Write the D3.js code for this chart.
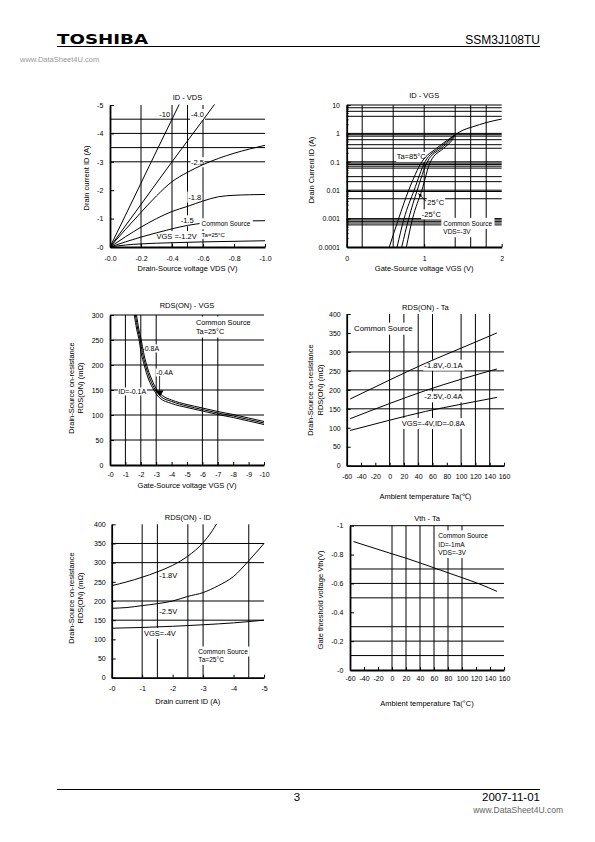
<!DOCTYPE html>
<html><head><meta charset="utf-8">
<script src="https://cdn.jsdelivr.net/npm/d3@7"></script>
<style>
body{margin:0;background:#fff}
svg{display:block}
text{font-family:"Liberation Sans",Arial,Helvetica,sans-serif;fill:#000}
</style>
</head><body>
<script>
// ================= DATA =================
// Panel 1 : ID - VDS  (magnitudes; tick labels carry the minus sign)
const p1XTicks = [0, 0.2, 0.4, 0.6, 0.8, 1.0];
const p1YTicks = [0, 1, 2, 3, 4, 5];
const p1GridX = [0.2, 0.4, 0.5, 0.6];
const p1GridY = [3, 3.5, 4, 4.5];
const idVdsVgs10 = [[0,0],[0.1,1.12],[0.2,2.25],[0.3,3.38],[0.4,4.5],[0.45,5.06]];
const idVdsVgs40 = [[0,0],[0.2,1.5],[0.4,3.0],[0.6,4.47],[0.68,5.06]];
const idVdsVgs25 = [[0,0],[0.1,0.62],[0.2,1.22],[0.3,1.8],[0.4,2.3],[0.5,2.63],[0.6,2.9],[0.7,3.12],[0.8,3.3],[0.9,3.45],[1.0,3.58]];
const idVdsVgs18 = [[0,0],[0.1,0.36],[0.2,0.7],[0.3,1.0],[0.4,1.25],[0.5,1.43],[0.6,1.62],[0.7,1.77],[0.8,1.82],[0.9,1.84],[1.0,1.85]];
const idVdsVgs15 = [[0,0],[0.1,0.18],[0.2,0.35],[0.3,0.5],[0.4,0.64],[0.5,0.76],[0.6,0.84],[0.7,0.89],[0.8,0.91],[0.9,0.92],[1.0,0.925]];
const idVdsVgs12 = [[0,0],[0.1,0.07],[0.2,0.11],[0.4,0.15],[0.6,0.18],[0.8,0.2],[1.0,0.22]];

// Panel 2 : ID - VGS (log)
const p2XTicks = [0, 1, 2];
const p2YTicks = [0.0001, 0.001, 0.01, 0.1, 1, 10];
const p2YTickText = ["0.0001", "0.001", "0.01", "0.1", "1", "10"];
const p2GridX = [0.2, 0.6, 1.0, 1.4, 1.6, 1.8];
const p2GridY = [8, 6, 4, 1, 0.9, 0.8, 0.6, 0.4, 0.3, 0.1, 0.09, 0.08, 0.07, 0.06, 0.03, 0.02, 0.01, 0.009, 0.005, 0.001, 0.0009, 0.0008, 0.0007, 0.0006];
const idVgsTa85 = [[0.55,1e-4],[0.67,1e-3],[0.8,1e-2],[0.97,0.1],[1.16,0.3],[1.3,0.58],[1.4,0.9]];
const idVgsTaB  = [[0.65,1e-4],[0.74,1e-3],[0.87,1e-2],[1.01,0.1],[1.19,0.3],[1.32,0.58],[1.4,0.9]];
const idVgsTa25 = [[0.71,1e-4],[0.8,1e-3],[0.91,1e-2],[1.04,0.1],[1.22,0.3],[1.34,0.58],[1.4,0.9]];
const idVgsTaM25= [[0.77,1e-4],[0.85,1e-3],[0.97,1e-2],[1.08,0.1],[1.25,0.3],[1.36,0.58],[1.4,0.9]];
const idVgsHigh = [[1.4,0.9],[1.5,1.3],[1.63,1.72],[1.8,2.4],[2.0,3.2]];

// Panel 3 : RDS(ON) - VGS
const p3XTicks = d3.range(0, 11);
const p3YTicks = [0, 50, 100, 150, 200, 250, 300];
const p3GridX = [1, 2, 3, 6, 7];
const p3GridY = [50, 100, 150, 200, 250];
const ronVgsId08 = [[1.72,300],[1.87,272],[2.03,250],[2.18,225],[2.38,200],[2.7,172],[3.05,150],[3.4,139],[4,130],[5,121],[6,114],[7,107],[8,101],[9,94],[10,87]];
const ronVgsId04 = [[1.65,300],[1.8,272],[1.96,250],[2.1,225],[2.3,200],[2.6,172],[2.95,150],[3.3,137],[4,127],[5,118],[6,111],[7,104],[8,98],[9,91],[10,84]];
const ronVgsId01 = [[1.58,300],[1.73,272],[1.89,250],[2.02,225],[2.22,200],[2.5,172],[2.85,150],[3.2,135],[4,123],[5,115],[6,108],[7,101],[8,95],[9,88],[10,81]];

// Panel 4 : RDS(ON) - Ta
const p4XTicks = d3.range(-60, 161, 20);
const p4YTicks = [0, 50, 100, 150, 200, 250, 300, 350, 400];
const p4GridX = [0, 20, 40, 60, 100, 120, 140];
const p4GridY = [150, 200, 250, 300];
const ronTaVgs18 = [[-55,176],[0,226],[50,270],[100,310],[150,350]];
const ronTaVgs25 = [[-55,124],[0,164],[50,198],[100,228],[150,255]];
const ronTaVgs4  = [[-55,93],[0,120],[50,143],[100,162],[150,180]];

// Panel 5 : RDS(ON) - ID
const p5XTicks = [0, 1, 2, 3, 4, 5];
const p5YTicks = [0, 50, 100, 150, 200, 250, 300, 350, 400];
const p5GridX = [1, 1.5, 2.5, 3, 4.5];
const p5GridY = [150, 200, 300, 350];
const ronIdVgs18 = [[0,240],[0.5,250],[1,262],[1.5,276],[2,293],[2.5,317],[3,352],[3.3,383],[3.45,402]];
const ronIdVgs25 = [[0,181],[0.5,183],[1,188],[1.5,193],[2,200],[2.5,212],[3,222],[3.5,240],[4,264],[4.5,305],[5,350]];
const ronIdVgs4  = [[0,129],[1,131],[2,134],[3,138],[4,143],[5,150]];

// Panel 6 : Vth - Ta
const p6XTicks = d3.range(-60, 161, 20);
const p6YTicks = [0, 0.2, 0.4, 0.6, 0.8, 1];
const p6GridX = [0, 20, 40, 60, 80, 100];
const p6GridY = [0.1, 0.2, 0.3, 0.5, 0.6, 0.7];
const vthTa = [[-55,0.89],[0,0.805],[20,0.775],[60,0.708],[100,0.64],[125,0.596],[150,0.545]];

// ================= DRAW =================
const svg = d3.select("body").append("svg").attr("width", 595).attr("height", 842);

function drawPanel(p) {
  const [L, R, T, B] = p.box;
  const g = svg.append("g");
  const x = d3.scaleLinear().domain(p.xDomain).range([L, R]);
  const y = (p.log ? d3.scaleLog() : d3.scaleLinear()).domain(p.yDomain).range([B, T]);
  const cid = "clip" + p.id;
  svg.append("clipPath").attr("id", cid).append("rect")
    .attr("x", L).attr("y", T - 0.5).attr("width", R - L + 1).attr("height", B - T + 0.5);

  // grid
  g.append("g").selectAll("line").data(p.gridX).join("line")
    .attr("x1", d => x(d)).attr("x2", d => x(d)).attr("y1", T).attr("y2", B)
    .attr("stroke", "#000").attr("stroke-width", 1);
  g.append("g").selectAll("line").data(p.gridY).join("line")
    .attr("x1", L).attr("x2", R).attr("y1", d => y(d)).attr("y2", d => y(d))
    .attr("stroke", "#000").attr("stroke-width", 1);
  if (p.topLine) g.append("line").attr("x1", L).attr("x2", R).attr("y1", T).attr("y2", T)
    .attr("stroke", "#000").attr("stroke-width", 1);

  const bgLow = g.append("g");
  const curveG = g.append("g").attr("clip-path", `url(#${cid})`);
  const bgHigh = g.append("g");
  const textG = g.append("g");

  const line = d3.line().x(d => x(d[0])).y(d => y(d[1])).curve(d3.curveMonotoneX);
  curveG.selectAll("path").data(p.series).join("path")
    .attr("d", line).attr("fill", "none").attr("stroke", "#000").attr("stroke-width", 1);

  // annotations
  (p.labels || []).forEach(l => {
    const t = textG.append("text").attr("x", x(l.x)).attr("y", y(l.y)).attr("dy", "0.35em")
      .attr("font-size", l.size || 7.5).text(l.t);
    if (l.bg) {
      const bb = t.node().getBBox();
      const pad = l.pad != null ? l.pad : 1;
      (l.bg === 2 ? bgHigh : bgLow).append("rect")
        .attr("x", bb.x - pad).attr("y", bb.y - pad)
        .attr("width", bb.width + 2 * pad).attr("height", bb.height + 2 * pad).attr("fill", "#fff");
    }
  });
  (p.marks || []).forEach(m => m(textG, x, y));

  // axes
  const ax = d3.axisBottom(x).tickValues(p.xTicks).tickFormat(p.xFmt)
    .tickSizeInner(-3).tickSizeOuter(0).tickPadding(p.xPad);
  const gx = g.append("g").attr("transform", `translate(0,${B})`).call(ax);
  const ay = d3.axisLeft(y).tickValues(p.yTicks).tickFormat(p.yFmt)
    .tickSizeInner(-4).tickSizeOuter(0).tickPadding(p.yPad);
  const gy = g.append("g").attr("transform", `translate(${L},0)`).call(ay);
  [gx, gy].forEach(a => {
    a.attr("font-family", null).attr("font-size", null);
    a.select(".domain").attr("stroke", "#000").attr("stroke-width", 1.8);
    a.selectAll(".tick line").attr("stroke", "#000");
    a.selectAll("text").attr("font-size", 7).attr("fill", "#000");
  });
  if (p.minorY) {
    g.append("g").selectAll("line").data(p.minorY).join("line")
      .attr("x1", L).attr("x2", L + 2).attr("y1", d => y(d)).attr("y2", d => y(d))
      .attr("stroke", "#000").attr("stroke-width", 0.8);
  }

  // titles
  const cx = (L + R) / 2;
  g.append("text").attr("x", cx).attr("y", p.titleY).attr("dy", "0.35em")
    .attr("text-anchor", "middle").attr("font-size", 7.5).text(p.title);
  g.append("text").attr("x", cx).attr("y", p.xTitleY).attr("dy", "0.35em")
    .attr("text-anchor", "middle").attr("font-size", 7.5).text(p.xTitle);
  p.yTitle.forEach((s, i) => {
    g.append("text").attr("transform", `translate(${p.yTitleX[i]},${p.yTitleY}) rotate(-90)`)
      .attr("dy", "0.35em").attr("text-anchor", "middle").attr("font-size", 7.5).text(s);
  });
}

const neg1 = d => "-" + d.toFixed(1);
const negI = d => "-" + d;
const plain = d => String(d);

// Panel 1
drawPanel({
  id: 1, box: [110, 265, 105, 247], xDomain: [0, 1], yDomain: [0, 5],
  xTicks: p1XTicks, yTicks: p1YTicks, xFmt: neg1, yFmt: negI, xPad: 8.8, yPad: 6.7,
  gridX: p1GridX, gridY: p1GridY,
  series: [idVdsVgs10, idVdsVgs40, idVdsVgs25, idVdsVgs18, idVdsVgs15, idVdsVgs12],
  title: "ID - VDS", titleY: 97.5, xTitle: "Drain-Source voltage VDS (V)", xTitleY: 268,
  yTitle: ["Drain current ID (A)"], yTitleX: [86.7], yTitleY: 178,
  labels: [
    {t: "-10", x: 0.318, y: 4.67},
    {t: "-4.0", x: 0.523, y: 4.67, bg: 1},
    {t: "-2.5", x: 0.523, y: 2.99, bg: 1, pad: 0.5},
    {t: "-1.8", x: 0.505, y: 1.76, bg: 1},
    {t: "-1.5", x: 0.456, y: 0.925, bg: 1},
    {t: "VGS =-1.2V", x: 0.30, y: 0.375, bg: 1},
    {t: "Common Source", x: 0.591, y: 0.81, size: 6.5, bg: 2, pad: 2},
    {t: "Ta=25°C", x: 0.591, y: 0.43, size: 6, bg: 2, pad: 1}
  ]
});

// Panel 2
const p2Minor = [];
[1e-4, 1e-3, 1e-2, 1e-1, 1].forEach(dec => { for (let k = 2; k <= 9; k++) p2Minor.push(dec * k); });
drawPanel({
  id: 2, box: [346.7, 501.7, 105, 247], xDomain: [0, 2], yDomain: [1e-4, 10], log: true,
  xTicks: p2XTicks, yTicks: p2YTicks, xFmt: plain, yFmt: (d, i) => p2YTickText[i], xPad: 8.8, yPad: 6.7,
  gridX: p2GridX, gridY: p2GridY, topLine: true, minorY: p2Minor,
  series: [idVgsTa85, idVgsTaB, idVgsTa25, idVgsTaM25, idVgsHigh],
  title: "ID - VGS", titleY: 95.7, xTitle: "Gate-Source voltage VGS (V)", xTitleY: 268,
  yTitle: ["Drain Current ID (A)"], yTitleX: [311.7], yTitleY: 170,
  labels: [
    {t: "Ta=85°C", x: 0.645, y: 0.15, bg: 1, pad: 0.5},
    {t: "25°C", x: 1.04, y: 0.00367, bg: 1, pad: 0.5},
    {t: "-25°C", x: 0.968, y: 0.00142, bg: 1, pad: 0.5},
    {t: "Common Source", x: 1.247, y: 0.000667, size: 6.5, bg: 1, pad: 2},
    {t: "VDS=-3V", x: 1.247, y: 0.000339, size: 6.5, bg: 1, pad: 2}
  ],
  marks: [(gg, x, y) => {
    const x0 = x(1.024), y0 = y(0.0041), x1 = x(0.925), y1 = y(0.0076);
    gg.append("line").attr("x1", x0).attr("y1", y0).attr("x2", x1).attr("y2", y1)
      .attr("stroke", "#000").attr("stroke-width", 0.8);
    const a = Math.atan2(y1 - y0, x1 - x0);
    const p = [[x1, y1], [x1 - 4 * Math.cos(a - 0.4), y1 - 4 * Math.sin(a - 0.4)], [x1 - 4 * Math.cos(a + 0.4), y1 - 4 * Math.sin(a + 0.4)]];
    gg.append("path").attr("d", "M" + p.join("L") + "Z").attr("fill", "#000");
  }]
});

// Panel 3
drawPanel({
  id: 3, box: [110, 264, 315, 465], xDomain: [0, 10], yDomain: [0, 300],
  xTicks: p3XTicks, yTicks: p3YTicks, xFmt: negI, yFmt: plain, xPad: 7.5, yPad: 6.7,
  gridX: p3GridX, gridY: p3GridY, topLine: true,
  series: [ronVgsId08, ronVgsId04, ronVgsId01],
  title: "RDS(ON) - VGS", titleY: 305.5, xTitle: "Gate-Source voltage VGS (V)", xTitleY: 485.7,
  yTitle: ["Drain-Source on-resistance", "RDS(ON) (mΩ)"], yTitleX: [71.7, 80.7], yTitleY: 388,
  labels: [
    {t: "-0.8A", x: 2.1, y: 233, size: 7, bg: 1, pad: 0.5},
    {t: "-0.4A", x: 3.0, y: 185, size: 7, bg: 1, pad: 0.5},
    {t: "ID=-0.1A", x: 0.54, y: 147, size: 7, bg: 1, pad: 0.5},
    {t: "Common Source", x: 5.58, y: 285, size: 7.3, bg: 1, pad: 1.5},
    {t: "Ta=25°C", x: 5.58, y: 267, size: 7.3, bg: 1, pad: 1.5}
  ],
  marks: [(gg, x, y) => {
    const xa = x(3.22), yt = y(137), ys = y(178);
    gg.append("line").attr("x1", xa).attr("x2", xa).attr("y1", ys).attr("y2", yt - 5)
      .attr("stroke", "#000").attr("stroke-width", 0.8);
    gg.append("path").attr("d", `M${xa - 4},${yt - 6}L${xa + 4},${yt - 6}L${xa + 0.5},${yt}Z`).attr("fill", "#000");
  }]
});

// Panel 4
drawPanel({
  id: 4, box: [346.7, 504, 314, 465.7], xDomain: [-60, 160], yDomain: [0, 400],
  xTicks: p4XTicks, yTicks: p4YTicks, xFmt: plain, yFmt: plain, xPad: 8.5, yPad: 6,
  gridX: p4GridX, gridY: p4GridY, topLine: false,
  series: [ronTaVgs18, ronTaVgs25, ronTaVgs4],
  title: "RDS(ON) - Ta", titleY: 307.5, xTitle: "Ambient temperature Ta(℃)", xTitleY: 496.7,
  yTitle: ["Drain-Source on-resistance", "RDS(ON) (mΩ)"], yTitleX: [310, 320], yTitleY: 390,
  labels: [
    {t: "Common Source", x: -49.7, y: 362, size: 7.8, bg: 1, pad: 1.5},
    {t: "-1.8V,-0.1A", x: 48.6, y: 265.5, size: 7.7, bg: 1, pad: 1},
    {t: "-2.5V,-0.4A", x: 48.6, y: 182, size: 7.7, bg: 1, pad: 1},
    {t: "VGS=-4V,ID=-0.8A", x: 16.9, y: 111.6, size: 7.5, bg: 1, pad: 1}
  ]
});

// Panel 5
drawPanel({
  id: 5, box: [111.7, 264, 524.3, 677.7], xDomain: [0, 5], yDomain: [0, 400],
  xTicks: p5XTicks, yTicks: p5YTicks, xFmt: negI, yFmt: plain, xPad: 8.1, yPad: 6,
  gridX: p5GridX, gridY: p5GridY, topLine: false,
  series: [ronIdVgs18, ronIdVgs25, ronIdVgs4],
  title: "RDS(ON) - ID", titleY: 517.5, xTitle: "Drain current ID (A)", xTitleY: 701.7,
  yTitle: ["Drain-Source on-resistance", "RDS(ON) (mΩ)"], yTitleX: [71.7, 80.5], yTitleY: 598,
  labels: [
    {t: "-1.8V", x: 1.565, y: 266, size: 7.5, bg: 1, pad: 1},
    {t: "-2.5V", x: 1.565, y: 174, size: 7.5, bg: 1, pad: 1},
    {t: "VGS=-4V", x: 1.06, y: 115.7, size: 7.5, bg: 1, pad: 1},
    {t: "Common Source", x: 2.845, y: 67.8, size: 6.6, bg: 1, pad: 1.5},
    {t: "Ta=25°C", x: 2.845, y: 46, size: 6.6, bg: 1, pad: 1.5}
  ]
});

// Panel 6
drawPanel({
  id: 6, box: [350, 504, 525.7, 670], xDomain: [-60, 160], yDomain: [0, 1],
  xTicks: p6XTicks, yTicks: p6YTicks, xFmt: plain, yFmt: negI, xPad: 5.8, yPad: 6.7,
  gridX: p6GridX, gridY: p6GridY, topLine: true,
  series: [vthTa],
  title: "Vth - Ta", titleY: 518.5, xTitle: "Ambient temperature Ta(°C)", xTitleY: 703.3,
  yTitle: ["Gate threshold voltage Vth(V)"], yTitleX: [320.7], yTitleY: 600,
  labels: [
    {t: "Common Source", x: 66.2, y: 0.928, size: 6.6, bg: 1, pad: 2},
    {t: "ID=-1mA", x: 66.2, y: 0.871, size: 6.6, bg: 1, pad: 2},
    {t: "VDS=-3V", x: 66.2, y: 0.813, size: 6.6, bg: 1, pad: 2}
  ]
});

// ================= PAGE HEADER / FOOTER =================
svg.append("text").attr("x", 57).attr("y", 44).attr("font-size", 14)
  .style("font-family", "'DejaVu Sans',sans-serif").attr("font-weight", 900)
  .attr("textLength", 91).attr("lengthAdjust", "spacingAndGlyphs").text("TOSHIBA");
svg.append("text").attr("x", 540).attr("y", 44).attr("text-anchor", "end").attr("font-size", 12).text("SSM3J108TU");
svg.append("line").attr("x1", 57).attr("x2", 540).attr("y1", 46.5).attr("y2", 46.5).attr("stroke", "#000").attr("stroke-width", 1);
svg.append("text").attr("x", 20).attr("y", 62).attr("font-size", 7.5).style("fill", "#999").text("www.DataSheet4U.com");

svg.append("line").attr("x1", 57).attr("x2", 540).attr("y1", 789.5).attr("y2", 789.5).attr("stroke", "#000").attr("stroke-width", 1);
svg.append("text").attr("x", 297).attr("y", 801).attr("text-anchor", "middle").attr("font-size", 11.5).text("3");
svg.append("text").attr("x", 540).attr("y", 801).attr("text-anchor", "end").attr("font-size", 11.5).text("2007-11-01");
svg.append("text").attr("x", 563).attr("y", 813).attr("text-anchor", "end").attr("font-size", 8.5).style("fill", "#666").text("www.DataSheet4U.com");
</script>
</body></html>
